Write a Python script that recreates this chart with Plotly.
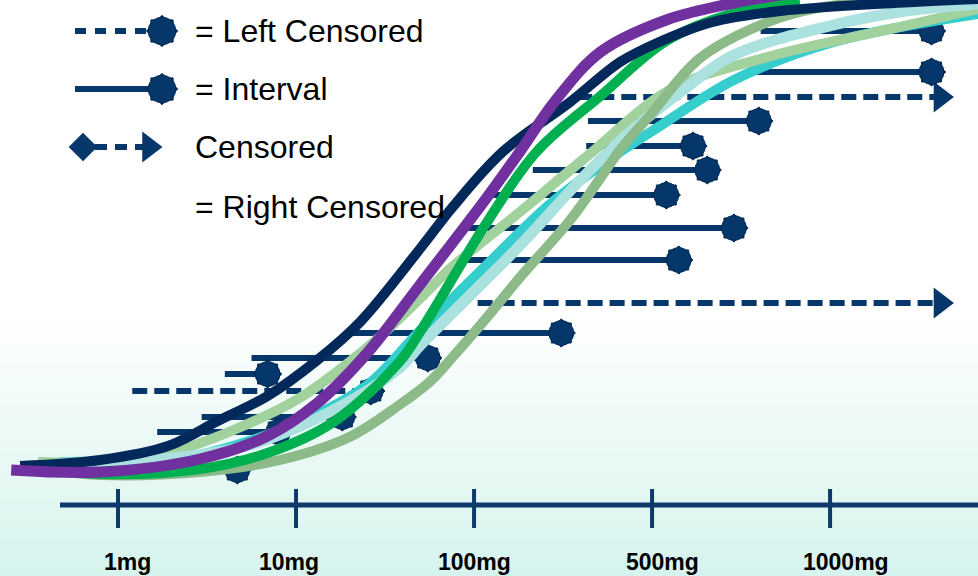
import plotly.graph_objects as go

# ---- dose axis (ordinal positions of the labelled doses) ----
dose_ticks = [1, 2, 3, 4, 5]
dose_labels = ["1mg", "10mg", "100mg", "500mg", "1000mg"]
label_shift_px = [9, -7, 0, 10, 16]

# ---- fitted dose-response curves: x = dose position, y = % response ----
navy_x = [0.45, 0.90, 1.28, 1.56, 1.84, 2.12, 2.36, 2.70, 2.88, 3.16, 3.54, 3.82, 4.04, 4.34, 4.72, 5.47, 5.83]
navy_y = [0.8, 2.0, 4.8, 9.8, 14.8, 22.0, 29.6, 44.4, 52.6, 63.6, 73.6, 81.6, 85.6, 89.6, 91.8, 93.6, 94.2]

purple_x = [0.40, 0.90, 1.46, 1.84, 2.12, 2.40, 2.70, 3.07, 3.26, 3.46, 3.71, 4.08, 4.46, 4.83]
purple_y = [0.0, -0.4, 2.2, 6.8, 13.4, 23.4, 37.2, 54.4, 63.8, 74.0, 83.6, 90.0, 93.4, 95.6]

green_x = [0.56, 0.90, 1.46, 1.84, 2.21, 2.58, 2.70, 3.07, 3.35, 3.71, 4.08, 4.46, 4.83]
green_y = [0.4, -0.8, 0.2, 3.4, 9.6, 21.6, 27.8, 49.4, 63.6, 74.8, 85.8, 91.4, 93.8]

pale_green_x = [0.55, 0.90, 1.28, 1.65, 2.02, 2.30, 2.50, 2.70, 2.87, 3.25, 3.63, 4.10, 4.65, 5.39, 5.83]
pale_green_y = [1.6, 1.6, 3.4, 8.0, 14.4, 21.6, 27.6, 34.4, 40.4, 51.4, 62.6, 76.0, 82.6, 88.6, 92.2]

sage_x = [0.67, 0.90, 1.46, 1.91, 2.30, 2.58, 2.75, 2.88, 3.06, 3.26, 3.54, 3.71, 3.82, 3.99, 4.27, 4.65, 4.93, 5.39]
sage_y = [-0.2, -1.0, -0.4, 2.0, 6.6, 13.0, 17.6, 22.6, 30.0, 38.6, 50.0, 58.4, 64.0, 71.0, 82.4, 89.6, 92.4, 94.0]

cyan_x = [0.67, 1.18, 1.46, 2.02, 2.40, 2.70, 3.07, 3.44, 3.82, 4.01, 4.46, 5.02, 5.83]
cyan_y = [1.6, 2.0, 3.0, 9.6, 17.0, 28.0, 41.0, 53.6, 63.6, 68.0, 78.0, 85.6, 91.2]

light_cyan_x = [0.67, 1.18, 1.74, 2.21, 2.58, 2.70, 2.98, 3.26, 3.63, 3.89, 4.16, 4.46, 5.02, 5.39, 5.83]
light_cyan_y = [1.4, 2.0, 5.0, 12.0, 20.4, 25.0, 35.0, 45.0, 59.2, 68.0, 75.6, 83.0, 89.0, 91.6, 93.2]

# ---- observations ----
# interval-censored: response level, lower dose, upper dose
interval_level = [87.8, 79.6, 69.8, 64.8, 60.0, 55.0, 48.4, 42.0, 27.4, 22.4, 19.2, 10.6, 7.6, 0.0]
interval_lo = [4.61, 4.57, 3.64, 3.63, 3.33, 3.09, 2.97, 2.90, 2.32, 1.75, 1.60, 1.47, 1.22, 1.18]
interval_hi = [5.57, 5.57, 4.60, 4.23, 4.31, 4.08, 4.46, 4.15, 3.49, 2.74, 1.84, 2.26, 1.90, 1.67]

# left-censored
left_level = [15.8]
left_lo = [1.08]
left_hi = [2.42]

# right-censored (open-ended towards higher doses)
right_level = [74.6, 33.4]
right_lo = [3.58, 3.02]
right_arrow = [5.62, 5.62]

NAVY = "#05376b"
EDGE = "#022a55"

fig = go.Figure()


def add_star(xs, ys, size=27, xaxis="x", yaxis="y"):
    """Scalloped 'burst' marker built from two squares and a circle."""
    for ang in (0, 45):
        fig.add_trace(go.Scatter(
            x=xs, y=ys, mode="markers", xaxis=xaxis, yaxis=yaxis, hoverinfo="skip",
            marker=dict(symbol="square", size=size * 0.74, angle=ang, color=NAVY,
                        line=dict(color=EDGE, width=1))))
    fig.add_trace(go.Scatter(
        x=xs, y=ys, mode="markers", xaxis=xaxis, yaxis=yaxis, hoverinfo="skip",
        marker=dict(symbol="circle", size=size * 0.92, color=NAVY,
                    line=dict(color=EDGE, width=1))))


# interval lines
for lvl, lo, hi in zip(interval_level, interval_lo, interval_hi):
    fig.add_trace(go.Scatter(x=[lo, hi], y=[lvl, lvl], mode="lines", hoverinfo="skip",
                             line=dict(color=NAVY, width=6)))
for lvl, lo, hi in zip(left_level, left_lo, left_hi):
    fig.add_trace(go.Scatter(x=[lo, hi], y=[lvl, lvl], mode="lines", hoverinfo="skip",
                             line=dict(color=NAVY, width=6, dash="15px,7px")))
for lvl, lo, hi in zip(right_level, right_lo, right_arrow):
    fig.add_trace(go.Scatter(x=[lo, hi], y=[lvl, lvl], mode="lines", hoverinfo="skip",
                             line=dict(color=NAVY, width=6, dash="15px,7px")))
fig.add_trace(go.Scatter(x=right_arrow, y=right_level, mode="markers", hoverinfo="skip",
                         marker=dict(symbol="triangle-right", size=27, color=NAVY)))

add_star(interval_hi, interval_level)
add_star(left_hi, left_level)

# dose-response curves, back to front
curves = [
    (cyan_x, cyan_y, "#36cdcd", 10),
    (pale_green_x, pale_green_y, "#a1d19c", 10),
    (light_cyan_x, light_cyan_y, "#abe2e0", 11),
    (sage_x, sage_y, "#8cbb89", 10),
    (green_x, green_y, "#00b050", 10),
    (navy_x, navy_y, "#02295a", 10),
    (purple_x, purple_y, "#7030a0", 11),
]
for cx, cy, col, w in curves:
    fig.add_trace(go.Scatter(x=cx, y=cy, mode="lines", hoverinfo="skip",
                             line=dict(color=col, width=w, shape="spline", smoothing=1.0)))

# ---- key (drawn on an overlay canvas in pixel units) ----
key_rows = [31, 89, 147, 207]
key_text = ["= Left Censored", "= Interval", "Censored", "= Right Censored"]

fig.add_trace(go.Scatter(x=[75, 150], y=[key_rows[0]] * 2, mode="lines", xaxis="x2", yaxis="y2",
                         hoverinfo="skip", line=dict(color=NAVY, width=6, dash="11px,9px")))
fig.add_trace(go.Scatter(x=[75, 160], y=[key_rows[1]] * 2, mode="lines", xaxis="x2", yaxis="y2",
                         hoverinfo="skip", line=dict(color=NAVY, width=6)))
fig.add_trace(go.Scatter(x=[95, 145], y=[key_rows[2]] * 2, mode="lines", xaxis="x2", yaxis="y2",
                         hoverinfo="skip", line=dict(color=NAVY, width=6, dash="12px,8px")))
fig.add_trace(go.Scatter(x=[83], y=[key_rows[2]], mode="markers", xaxis="x2", yaxis="y2",
                         hoverinfo="skip", marker=dict(symbol="diamond", size=22, color=NAVY)))
fig.add_trace(go.Scatter(x=[149], y=[key_rows[2]], mode="markers", xaxis="x2", yaxis="y2",
                         hoverinfo="skip", marker=dict(symbol="triangle-right", size=27, color=NAVY)))
add_star([162, 162], key_rows[:2], size=30, xaxis="x2", yaxis="y2")

annotations = []
for yk, t in zip(key_rows, key_text):
    annotations.append(dict(x=193, y=yk, xref="x2", yref="y2", text=t, showarrow=False,
                            xanchor="left", yanchor="middle",
                            font=dict(family="Liberation Sans, Arial, sans-serif", size=32, color="#000")))

# ---- dose axis drawn as line + crossing ticks ----
AXIS_Y = -7.0
shapes = []
# soft mint wash towards the bottom of the canvas
n_bands = 60
top_frac = 0.46
for i in range(n_bands):
    f0 = top_frac * i / n_bands
    f1 = top_frac * (i + 1) / n_bands
    t = 1 - (i + 0.5) / n_bands  # 1 at bottom, 0 at top of wash
    r = round(255 + (214 - 255) * t)
    g = round(255 + (243 - 255) * t)
    b = round(255 + (237 - 255) * t)
    shapes.append(dict(type="rect", xref="paper", yref="paper", x0=0, x1=1, y0=f0, y1=f1 + 0.002,
                       fillcolor=f"rgb({r},{g},{b})", line=dict(width=0), layer="below"))

shapes.append(dict(type="line", xref="x", yref="y", x0=0.674, x1=5.9, y0=AXIS_Y, y1=AXIS_Y,
                   line=dict(color="#0d3a6b", width=5)))
for tv in dose_ticks:
    shapes.append(dict(type="line", xref="x", yref="y", x0=tv, x1=tv, y0=-3.8, y1=-11.6,
                       line=dict(color="#0d3a6b", width=4)))
for tv, lab, sh in zip(dose_ticks, dose_labels, label_shift_px):
    annotations.append(dict(x=tv, y=-18.4, xref="x", yref="y", text=f"<b>{lab}</b>", showarrow=False,
                            xanchor="center", yanchor="middle", xshift=sh,
                            font=dict(family="Liberation Sans, Arial, sans-serif", size=23, color="#000")))

fig.update_layout(
    width=978, height=576,
    margin=dict(l=0, r=0, t=0, b=0),
    paper_bgcolor="white", plot_bgcolor="rgba(0,0,0,0)",
    showlegend=False,
    xaxis=dict(range=[0.337, 5.831], visible=False, fixedrange=True),
    yaxis=dict(range=[-21.2, 94.0], visible=False, fixedrange=True),
    xaxis2=dict(range=[0, 978], overlaying="x", visible=False, fixedrange=True),
    yaxis2=dict(range=[576, 0], overlaying="y", visible=False, fixedrange=True),
    shapes=shapes,
    annotations=annotations,
)

fig.write_html("out.html")
